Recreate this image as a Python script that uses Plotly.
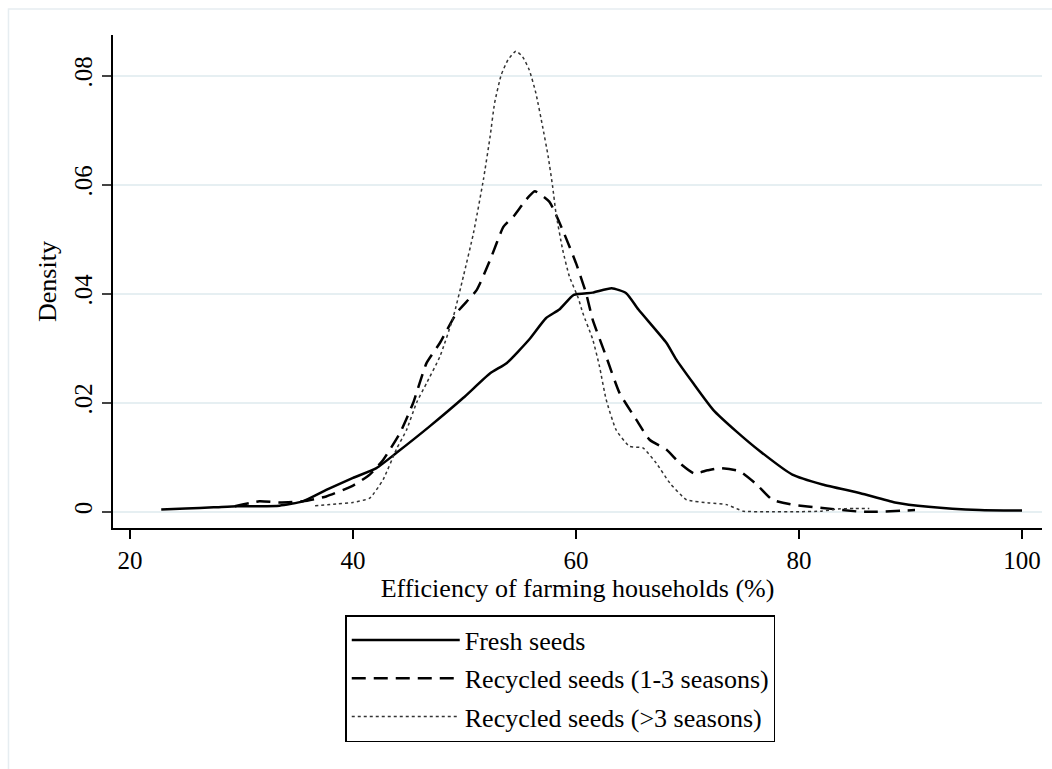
import plotly.graph_objects as go

# ---- data ----
fresh_x = [22.8, 25.0, 27.5, 29.6, 31.5, 33.4, 35.5, 37.6, 40.0, 42.1, 43.9, 46.9, 49.9, 52.3,
           53.8, 55.8, 57.3, 58.5, 59.8, 61.5, 63.2, 64.5, 65.6, 68.1, 69.0, 70.5, 72.3, 74.4,
           76.5, 79.4, 82.1, 85.5, 88.6, 91.6, 96.2, 100.0]
fresh_y = [.0004, .0006, .0008, .0010, .0010, .0011, .0019, .0040, .0062, .0080, .0108, .0157,
           .0209, .0254, .0273, .0316, .0355, .0371, .0398, .0402, .0410, .0401, .0371, .0310,
           .0279, .0236, .0187, .0147, .0111, .0068, .0050, .0034, .0017, .0009, .0003, .0002]

rec13_x = [29.4, 31.6, 33.4, 35.5, 37.6, 40.0, 41.5, 42.7, 44.2, 45.4, 46.6, 47.8, 49.3, 51.1,
           52.3, 53.5, 54.4, 55.5, 56.3, 57.6, 58.8, 60.0, 60.9, 61.5, 62.7, 63.9, 65.4, 66.6,
           68.1, 69.3, 70.6, 71.8, 72.9, 74.7, 76.2, 77.6, 79.4, 82.1, 85.5, 87.0, 90.4]
rec13_y = [.0010, .0019, .0017, .0019, .0028, .0048, .0068, .0095, .0144, .0200, .0273, .0310,
           .0365, .0407, .0462, .0523, .0542, .0572, .0588, .0569, .0517, .0456, .0401, .0352,
           .0285, .0218, .0169, .0132, .0114, .0089, .0070, .0076, .0080, .0074, .0050, .0022,
           .0013, .0007, .0000, .0000, .0003]

rec3_x = [36.6, 38.5, 40.0, 41.5, 42.7, 43.9, 44.8, 45.7, 46.6, 47.8, 49.0, 49.9, 50.8, 51.7,
          52.3, 52.7, 53.3, 53.9, 54.6, 55.2, 55.8, 56.4, 57.0, 57.5, 57.9, 58.2, 58.8, 59.4,
          60.2, 60.6, 61.5, 62.1, 62.7, 63.6, 64.8, 66.0, 67.2, 68.4, 69.9, 72.0, 73.5, 75.0,
          77.0, 80.0, 82.0, 83.5, 85.0, 86.3]
rec3_y = [.0011, .0014, .0017, .0025, .0059, .0115, .0150, .0200, .0236, .0285, .0358, .0432,
          .0511, .0610, .0689, .0750, .0802, .0829, .0845, .0835, .0811, .0768, .0707, .0652,
          .0597, .0548, .0481, .0432, .0392, .0365, .0316, .0267, .0206, .0150, .0120, .0117,
          .0089, .0053, .0022, .0016, .0013, .0001, .0000, .0000, .0001, .0005, .0006, .0006]

series_names = ["Fresh seeds", "Recycled seeds (1-3 seasons)", "Recycled seeds (>3 seasons)"]
x_ticks = [20, 40, 60, 80, 100]
y_ticks = [0, 0.02, 0.04, 0.06, 0.08]
y_ticklabels = ["0", ".02", ".04", ".06", ".08"]

FONT = "Liberation Serif, Times New Roman, serif"

fig = go.Figure()
fig.add_trace(go.Scatter(x=fresh_x, y=fresh_y, mode="lines", name=series_names[0],
                         legendgroup="a",
                         line=dict(color="black", width=2.5, shape="spline", smoothing=0.5)))
fig.add_trace(go.Scatter(x=rec13_x, y=rec13_y, mode="lines", name=series_names[1],
                         legendgroup="b",
                         line=dict(color="black", width=2.5, dash="14px,8px",
                                   shape="spline", smoothing=0.5)))
fig.add_trace(go.Scatter(x=rec3_x, y=rec3_y, mode="lines", name=series_names[2],
                         legendgroup="c",
                         line=dict(color="#333333", width=1.5, dash="dot",
                                   shape="spline", smoothing=0.5)))

fig.update_layout(
    width=1052, height=769,
    margin=dict(l=113, r=10, t=35, b=241, autoexpand=False),
    paper_bgcolor="white", plot_bgcolor="white",
    font=dict(family=FONT, size=25, color="black"),
    showlegend=True,
    legend=dict(x=0.25, y=-0.1765, xanchor="left", yanchor="top",
                bordercolor="black", borderwidth=1.5, bgcolor="white",
                font=dict(family=FONT, size=26, color="black"),
                traceorder="grouped", tracegroupgap=1.5, itemwidth=108,
                itemclick=False, itemdoubleclick=False),
    hovermode=False,
    shapes=[dict(type="rect", xref="paper", yref="paper",
                 x0=-0.1125, x1=1.2, y0=-0.8, y1=1.0527,
                 line=dict(color="#e6edf1", width=1.5), layer="below")],
)

fig.update_xaxes(
    range=[18.475, 101.79], tickvals=x_ticks, ticktext=[str(v) for v in x_ticks],
    showgrid=False, zeroline=False, showline=True, linecolor="black", linewidth=1.5,
    ticks="outside", ticklen=9, tickwidth=1.5, tickcolor="black",
    tickfont=dict(family=FONT, size=25),
    title=dict(text="Efficiency of farming households (%)", standoff=2,
               font=dict(family=FONT, size=26)),
)
fig.update_yaxes(
    range=[-0.00299, 0.08747], tickvals=y_ticks, ticktext=y_ticklabels, tickangle=-90,
    showgrid=True, gridcolor="#e6eff2", gridwidth=2, zeroline=False,
    showline=True, linecolor="black", linewidth=1.5,
    ticks="outside", ticklen=9, tickwidth=1.5, tickcolor="#444444",
    tickfont=dict(family=FONT, size=25),
    title=dict(text="Density", standoff=6, font=dict(family=FONT, size=26)),
)

fig.write_html("out.html", config={"displayModeBar": False})
